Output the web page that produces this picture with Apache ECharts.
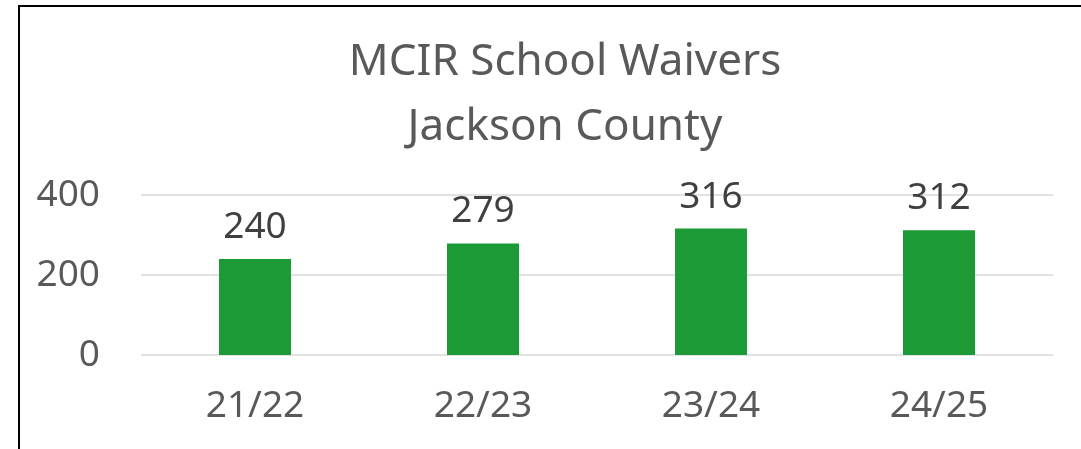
<!DOCTYPE html>
<html>
<head>
<meta charset="utf-8">
<script src="https://cdn.jsdelivr.net/npm/echarts@6/dist/echarts.min.js"></script>
<style>
    html, body {
        margin: 0;
        padding: 0;
        background: #fff;
        overflow: hidden;
    }
    .frame {
        position: absolute;
        left: 18px;
        top: 5px;
        width: 2000px;
        height: 2000px;
        border-top: 2px solid #000;
        border-left: 2px solid #000;
    }
    #chart {
        position: absolute;
        left: 0;
        top: 0;
        width: 1081px;
        height: 449px;
    }
</style>
</head>
<body>
<div class="frame"></div>
<div id="chart"></div>
<script>
// school years and waiver counts
const years = ['21/22', '22/23', '23/24', '24/25']
const waivers = [240, 279, 316, 312]
const yTicks = [0, 200, 400]

const font = 'Noto Sans'
var chart = echarts.init(document.getElementById('chart'))
chart.setOption({
    animation: false,
    title: {
        text: 'MCIR School Waivers\nJackson County',
        left: 560,
        top: 25,
        textAlign: 'center',
        textStyle: {
            fontFamily: font,
            fontSize: 44,
            fontWeight: 'normal',
            color: '#595959',
            lineHeight: 65
        }
    },
    grid: {
        left: 141,
        right: 28,
        top: 195,
        bottom: 94,
        containLabel: false
    },
    xAxis: {
        type: 'category',
        data: years,
        axisLine: { show: false },
        axisTick: { show: false },
        axisLabel: {
            fontFamily: font,
            fontSize: 37,
            color: '#595959',
            margin: 33
        }
    },
    yAxis: {
        type: 'value',
        min: yTicks[0],
        max: yTicks[yTicks.length - 1],
        interval: 200,
        axisLine: { show: false },
        axisTick: { show: false },
        axisLabel: {
            fontFamily: font,
            fontSize: 37,
            color: '#595959',
            margin: 41
        },
        splitLine: {
            lineStyle: { color: '#d9d9d9', width: 1.5 }
        }
    },
    series: [
        {
            name: 'waivers',
            type: 'bar',
            data: waivers,
            barWidth: 72,
            itemStyle: { color: '#1b9a35' },
            label: {
                show: true,
                position: 'top',
                distance: 13,
                fontFamily: font,
                fontSize: 37,
                color: '#404040'
            }
        }
    ]
})
</script>
</body>
</html>
